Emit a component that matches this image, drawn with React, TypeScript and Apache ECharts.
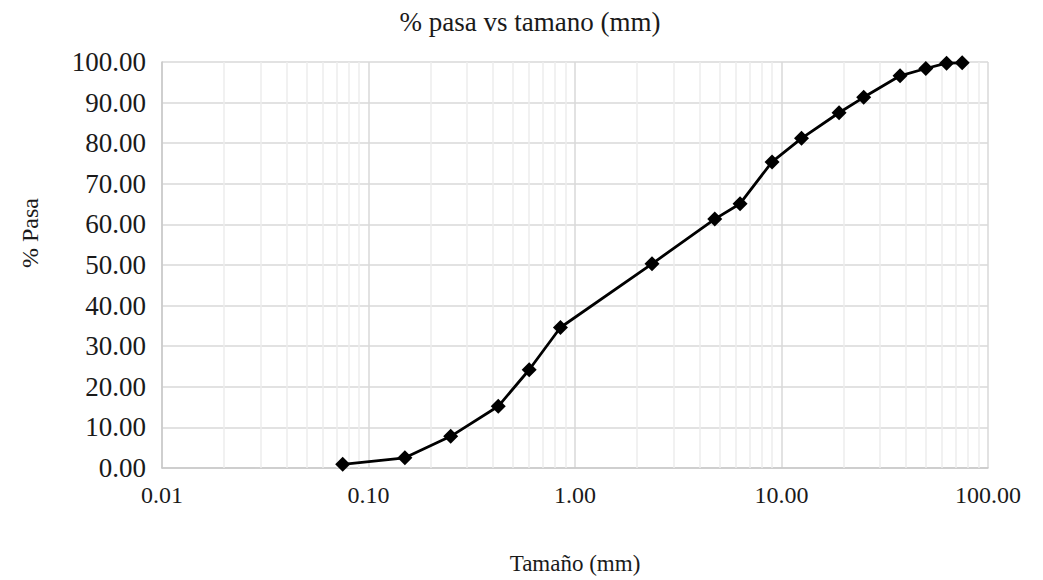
import React, { useEffect, useRef } from "react";
import * as echarts from "echarts";

const TITLE = "% pasa vs tamano (mm)";
const X_NAME = "Tamaño (mm)";
const Y_NAME = "% Pasa";

// sieve size (mm) and % passing
const sizes = [0.075, 0.15, 0.25, 0.425, 0.6, 0.85, 2.36, 4.75, 6.3, 9.0, 12.5, 19, 25, 37.5, 50, 63, 75];
const passing = [0.9, 2.5, 7.8, 15.2, 24.2, 34.6, 50.3, 61.3, 65.1, 75.4, 81.2, 87.5, 91.3, 96.6, 98.4, 99.7, 99.8];

const decades = [0.01, 0.1, 1, 10];
const minorMultipliers = [2, 3, 4, 5, 6, 7, 8, 9];

const FONT = "'Liberation Serif', 'DejaVu Serif', serif";

export default function App() {
  const ref = useRef<HTMLDivElement>(null);
  useEffect(() => {
    if (!ref.current) return;
    const chart = echarts.init(ref.current, null, { renderer: "svg" });
    const minorLines: { xAxis: number }[] = [];
    decades.forEach((d) => minorMultipliers.forEach((m) => minorLines.push({ xAxis: +(d * m).toPrecision(3) })));
    chart.setOption({
      animation: false,
      backgroundColor: "#ffffff",
      title: {
        text: TITLE,
        left: 525,
        textAlign: "center",
        top: 3,
        textStyle: { fontFamily: FONT, fontSize: 27, fontWeight: "normal", color: "#1a1a1a" },
      },
      grid: { left: 162, right: 55, top: 62, bottom: 111, containLabel: false },
      xAxis: {
        type: "log",
        logBase: 10,
        min: 0.01,
        max: 100,
        name: X_NAME,
        nameLocation: "middle",
        nameGap: 84,
        nameTextStyle: { fontFamily: FONT, fontSize: 23, color: "#1a1a1a" },
        axisLine: { show: true, lineStyle: { color: "#c8c8c8", width: 1.5 } },
        axisTick: { show: false },
        axisLabel: {
          fontFamily: FONT,
          fontSize: 24,
          color: "#1a1a1a",
          margin: 15,
          formatter: (v: number) => v.toFixed(2),
        },
        splitLine: { show: true, lineStyle: { color: "#d9d9d9", width: 1.5 } },
      },
      yAxis: {
        type: "value",
        min: 0,
        max: 100,
        interval: 10,
        axisLine: { show: true, lineStyle: { color: "#c8c8c8", width: 1.5 } },
        axisTick: { show: false },
        axisLabel: {
          fontFamily: FONT,
          fontSize: 27,
          color: "#1a1a1a",
          margin: 16,
          formatter: (v: number) => v.toFixed(2),
        },
        splitLine: { show: true, lineStyle: { color: "#d9d9d9", width: 1.5 } },
      },
      graphic: [
        {
          type: "text",
          x: 30,
          y: 233,
          rotation: Math.PI / 2,
          style: {
            text: Y_NAME,
            fontFamily: FONT,
            fontSize: 24,
            fill: "#1a1a1a",
            align: "center",
            verticalAlign: "middle",
          },
        },
      ],
      series: [
        {
          type: "line",
          data: [],
          silent: true,
          markLine: {
            silent: true,
            symbol: "none",
            label: { show: false },
            lineStyle: { color: "#ececec", width: 1.5, type: "solid" },
            data: minorLines,
          },
        },
        {
          type: "line",
          data: sizes.map((s, i) => [s, passing[i]]),
          symbol: "diamond",
          symbolSize: 15,
          lineStyle: { color: "#000", width: 2.8 },
          itemStyle: { color: "#000" },
          z: 5,
        },
      ],
    });
    return () => chart.dispose();
  }, []);
  return <div ref={ref} style={{ position: "absolute", left: 0, top: 0, width: 1043, height: 580 }} />;
}
